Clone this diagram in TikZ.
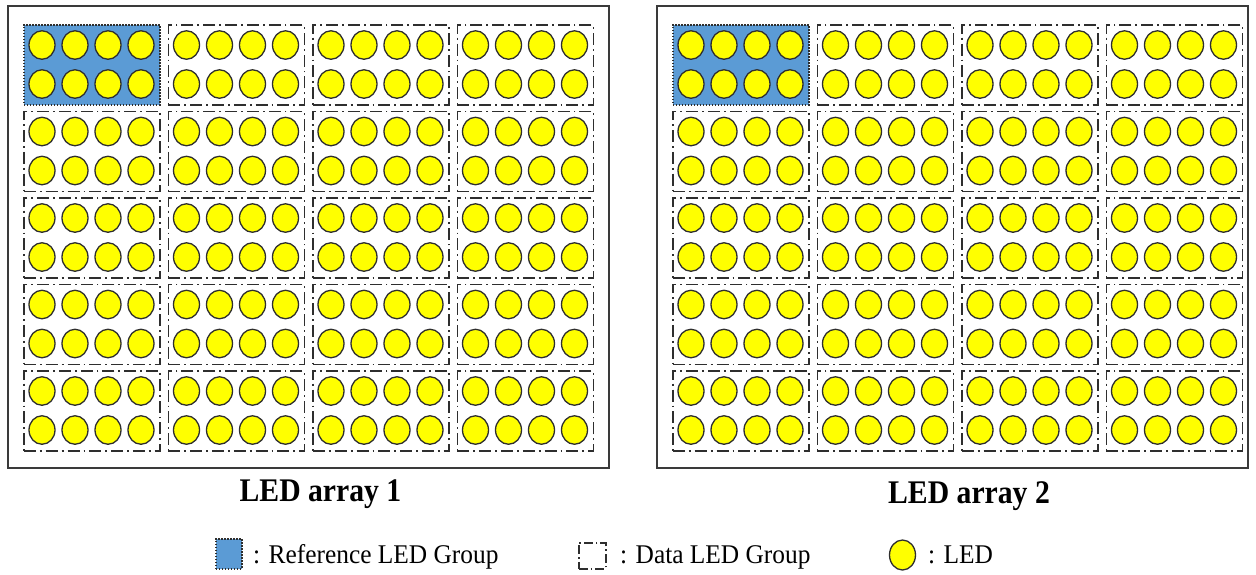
\documentclass[tikz,border=0pt]{standalone}
\usepackage{fontspec}
\setmainfont{Liberation Serif}
\usetikzlibrary{shapes.geometric}
\definecolor{refblue}{HTML}{5B9BD5}
\definecolor{ledyellow}{HTML}{FFFF00}
\definecolor{edgegray}{HTML}{2E2E2E}
\definecolor{framegray}{HTML}{3A3A3A}
\tikzset{
  arrayframe/.style={draw=framegray, line width=1.8pt, fill=white, inner sep=0pt, anchor=north west},
  datagroup/.style={draw=edgegray, line width=1.8pt, dash pattern=on 12pt off 4pt on 1.8pt off 4pt, inner sep=0pt, anchor=north west, minimum width=136pt, minimum height=80pt},
  refgroup/.style={draw=edgegray, fill=refblue, line width=1.5pt, dash pattern=on 1.5pt off 1.5pt, inner sep=0pt, anchor=north west, minimum width=136pt, minimum height=80pt},
  led/.style={ellipse, draw=edgegray, fill=ledyellow, line width=1.3pt, minimum width=26pt, minimum height=28.5pt, inner sep=0pt},
  title/.style={anchor=base, inner sep=0pt, font=\fontsize{33}{36}\selectfont\bfseries},
  legtext/.style={anchor=base west, inner sep=0pt, font=\fontsize{27}{30}\selectfont}
}
\begin{document}
\begin{tikzpicture}[x=1pt, y=-1pt]
\useasboundingbox (0,0) rectangle (1256,574);
\fill[white] (0,0) rectangle (1256,574);
% frames
\node[arrayframe, minimum width=601pt, minimum height=462pt] (frame1) at (7,5) {};
\node[arrayframe, minimum width=591pt, minimum height=462pt] (frame2) at (656,5) {};
% groups and LEDs
\foreach \a/\ox in {1/0, 2/649} {
  \foreach \c in {0,...,3} {
    \foreach \r in {0,...,4} {
      \pgfmathsetmacro\gx{23+\ox+144.5*\c}
      \pgfmathsetmacro\gy{24+86.5*\r}
      \ifnum\c=0 \ifnum\r=0
        \node[refgroup] (g\a-\c-\r) at (\gx,\gy) {};
      \else
        \node[datagroup] (g\a-\c-\r) at (\gx,\gy) {};
      \fi \else
        \node[datagroup] (g\a-\c-\r) at (\gx,\gy) {};
      \fi
      \foreach \k in {0,...,3} {
        \foreach \m in {0,1} {
          \pgfmathsetmacro\lx{19+33*\k}
          \pgfmathsetmacro\ly{21+39*\m}
          \node[led] (l\a-\c-\r-\k-\m) at ([xshift=\lx pt, yshift=-\ly pt]g\a-\c-\r.north west) {};
        }
      }
    }
  }
}
% titles
\node[title] (title1) at (320.5,501) {\scalebox{0.9}[1]{LED array 1}};
\node[title] (title2) at (969,503) {\scalebox{0.9}[1]{LED array 2}};
% legend
\node[refgroup, minimum width=26pt, minimum height=30pt] (legref) at (215,538) {};
\node[legtext] (legreftext) at (253,563) {\scalebox{0.94}[1]{: Reference LED Group}};
\node[draw=edgegray, line width=1.6pt, dash pattern=on 9pt off 3pt on 1.5pt off 3pt, inner sep=0pt, anchor=north west, minimum width=27pt, minimum height=26pt] (legdata) at (578,542) {};
\node[legtext] (legdatatext) at (620,563) {\scalebox{0.94}[1]{: Data LED Group}};
\node[led, minimum height=30pt] (legled) at (902.5,555) {};
\node[legtext] (legledtext) at (928,563) {\scalebox{0.94}[1]{: LED}};
\end{tikzpicture}
\end{document}
